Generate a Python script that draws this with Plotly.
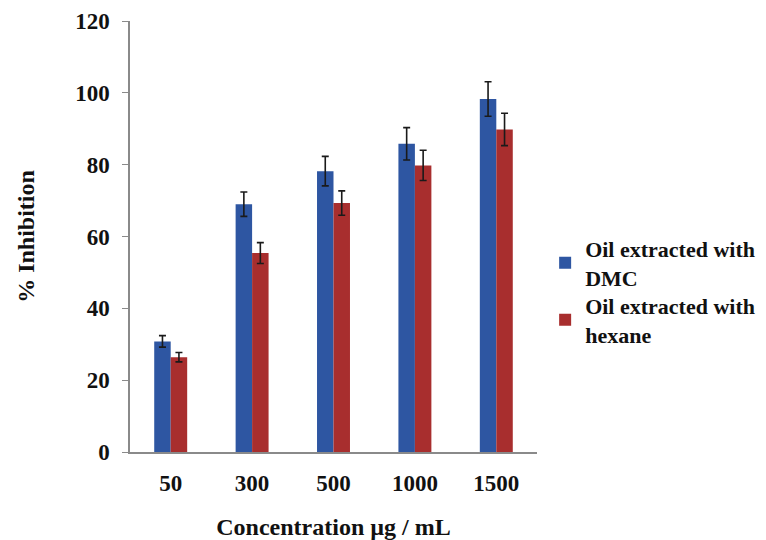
import plotly.graph_objects as go

categories = ["50", "300", "500", "1000", "1500"]
dmc_values = [30.8, 69.0, 78.2, 85.8, 98.3]
dmc_errors = [1.6, 3.4, 4.1, 4.5, 4.8]
hexane_values = [26.4, 55.4, 69.3, 79.8, 89.8]
hexane_errors = [1.3, 2.9, 3.4, 4.2, 4.5]
y_ticks = [0, 20, 40, 60, 80, 100, 120]

FONT = "Liberation Serif"
FS = 23
err_style = dict(type="data", visible=True, color="#1a1a1a", thickness=1.6, width=3.5)

fig = go.Figure()
fig.add_trace(go.Bar(
    x=categories, y=dmc_values, name="<b>Oil extracted with<br>DMC</b>",
    marker=dict(color="#2E56A2", line=dict(width=0)),
    error_y=dict(array=dmc_errors, **err_style),
    legend="legend", showlegend=True,
))
fig.add_trace(go.Bar(
    x=categories, y=hexane_values, name="<b>Oil extracted with<br>hexane</b>",
    marker=dict(color="#A82E2E", line=dict(width=0)),
    error_y=dict(array=hexane_errors, **err_style),
    legend="legend2", showlegend=True,
))

leg_common = dict(
    x=1.02, xanchor="left", yanchor="middle",
    font=dict(family=FONT, size=22, color="#111111"),
    itemwidth=30, bgcolor="rgba(0,0,0,0)", visible=True,
)

fig.update_layout(
    width=766, height=540,
    margin=dict(l=122, r=237, t=13, b=96, autoexpand=False),
    paper_bgcolor="white", plot_bgcolor="white",
    showlegend=True,
    barmode="group", bargap=0.595, bargroupgap=0,
    font=dict(family=FONT, size=FS, color="#111111"),
    legend=dict(y=0.438, **leg_common),
    legend2=dict(y=0.306, **leg_common),
    xaxis=dict(
        automargin=False,
        showline=True, linecolor="#8a8a8a", linewidth=1.5,
        ticks="", showgrid=False, ticklabelstandoff=10,
        tickfont=dict(family=FONT, size=FS, color="#111111", weight="bold"),
        title=dict(text="<b>Concentration µg / mL</b>", standoff=23,
                   font=dict(family=FONT, size=24, color="#111111")),
    ),
    yaxis=dict(
        automargin=False,
        range=[0, 120], tickvals=y_ticks, showline=True, linecolor="#8a8a8a", linewidth=1.5,
        ticks="outside", ticklen=6, tickcolor="#8a8a8a", tickwidth=1.2,
        showgrid=False, zeroline=False, ticklabelstandoff=8,
        tickfont=dict(family=FONT, size=FS, color="#111111", weight="bold"),
        title=dict(text="<b>% Inhibition</b>", standoff=34,
                   font=dict(family=FONT, size=24, color="#111111")),
    ),
)

fig.write_html("out.html")
